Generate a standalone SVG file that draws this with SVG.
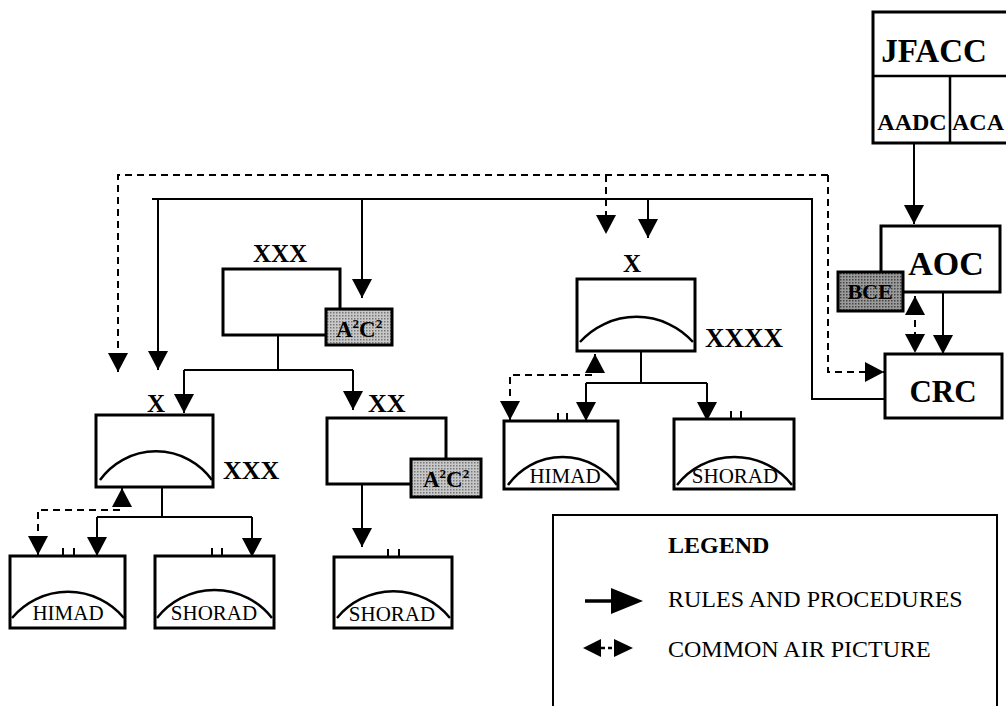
<svg xmlns="http://www.w3.org/2000/svg" width="1006" height="706" viewBox="0 0 1006 706">
<style>
.box{fill:#fff;stroke:#000;stroke-width:3}
.arc{fill:none;stroke:#000;stroke-width:2.5}
.tick{stroke:#000;stroke-width:2}
.ln{fill:none;stroke:#000;stroke-width:2}
.dl{fill:none;stroke:#000;stroke-width:2;stroke-dasharray:7,5}
.b{font-family:"Liberation Serif",serif;font-weight:bold;fill:#000}
.r{font-family:"Liberation Serif",serif;fill:#000}
.m{text-anchor:middle}
.a2{fill:url(#dotsL);stroke:#000;stroke-width:3}
.bce{fill:url(#dotsD);stroke:#000;stroke-width:3}
</style>
<defs>
<marker id="ah" markerUnits="userSpaceOnUse" markerWidth="20" markerHeight="20" refX="19" refY="10" orient="auto-start-reverse" viewBox="0 0 19 20">
<path d="M0,0 L19,10 L0,20 z" fill="#000"/>
</marker>
<pattern id="dotsL" width="3" height="3" patternUnits="userSpaceOnUse">
<rect width="3" height="3" fill="#c8c8c8"/>
<rect width="1.5" height="1.5" fill="#777"/>
</pattern>
<pattern id="dotsD" width="3" height="3" patternUnits="userSpaceOnUse">
<rect width="3" height="3" fill="#9a9a9a"/>
<rect width="1.5" height="1.5" fill="#444"/>
</pattern>
</defs>
<rect width="1006" height="706" fill="#fff"/>

<g id="connectors">
<line class="ln" x1="914" y1="143" x2="914" y2="224" marker-end="url(#ah)"/>
<line class="ln" x1="943" y1="292" x2="943" y2="354" marker-end="url(#ah)"/>
<line class="dl" x1="915" y1="296" x2="915" y2="353" marker-start="url(#ah)" marker-end="url(#ah)"/>
<path class="ln" d="M885 399 H812 V199 H152"/>
<line class="ln" x1="158" y1="199" x2="158" y2="370" marker-end="url(#ah)"/>
<line class="ln" x1="362" y1="199" x2="362" y2="298" marker-end="url(#ah)"/>
<line class="ln" x1="648" y1="199" x2="648" y2="238" marker-end="url(#ah)"/>
<path class="dl" d="M828 175 H118 V372" marker-end="url(#ah)"/>
<path class="dl" d="M828 175 V372 H884" marker-end="url(#ah)"/>
<line class="dl" x1="606" y1="175" x2="606" y2="234" marker-end="url(#ah)"/>
<path class="ln" d="M278 335 V370"/>
<path class="ln" d="M184 370 H353"/>
<line class="ln" x1="184" y1="370" x2="184" y2="413" marker-end="url(#ah)"/>
<line class="ln" x1="353" y1="370" x2="353" y2="410" marker-end="url(#ah)"/>
<line class="ln" x1="362" y1="484" x2="362" y2="547" marker-end="url(#ah)"/>
<path class="ln" d="M162 487 V517 M97 517 H252"/>
<line class="ln" x1="97" y1="517" x2="97" y2="556" marker-end="url(#ah)"/>
<line class="ln" x1="252" y1="517" x2="252" y2="557" marker-end="url(#ah)"/>
<path class="dl" d="M122 488 V510 H38 V555" marker-start="url(#ah)" marker-end="url(#ah)"/>
<path class="ln" d="M641 351 V383 M586 383 H707"/>
<line class="ln" x1="586" y1="383" x2="586" y2="421" marker-end="url(#ah)"/>
<line class="ln" x1="707" y1="383" x2="707" y2="421" marker-end="url(#ah)"/>
<path class="dl" d="M595 354 V375 H510 V420" marker-start="url(#ah)" marker-end="url(#ah)"/>
</g>

<g id="jfacc">
<rect class="box" x="873" y="12" width="140" height="131"/>
<line class="ln" x1="873" y1="76" x2="1010" y2="76" style="stroke-width:2.5"/>
<line class="ln" x1="950" y1="76" x2="950" y2="143" style="stroke-width:2.5"/>
<text class="b m" x="934" y="62" font-size="33">JFACC</text>
<text class="b m" x="912" y="130" font-size="24">AADC</text>
<text class="b m" x="978" y="130" font-size="24">ACA</text>
</g>

<g id="aoc">
<rect class="box" x="881" y="226" width="119" height="66"/>
<text class="b m" x="946" y="275" font-size="34">AOC</text>
</g>
<g id="bce">
<rect class="bce" x="838" y="272" width="65" height="39"/>
<text class="b m" x="870" y="299" font-size="22">BCE</text>
</g>
<g id="crc">
<rect class="box" x="885" y="354" width="117" height="64"/>
<text class="b m" x="943" y="402" font-size="31">CRC</text>
</g>

<g id="xxx-top">
<text class="b m" x="280" y="262" font-size="25">XXX</text>
<rect class="box" x="223" y="269" width="117" height="66"/>
<rect class="a2" x="326" y="309" width="66" height="36"/>
<text class="b m" x="359" y="337" font-size="23">A<tspan font-size="13" dy="-9">2</tspan><tspan dy="9">C</tspan><tspan font-size="13" dy="-9">2</tspan></text>
</g>

<g id="x-right">
<text class="b m" x="632" y="272" font-size="25">X</text>
<rect class="box" x="577" y="279" width="118" height="72"/>
<path class="arc" d="M580 342 A76 76 0 0 1 693 342"/>
<text class="b" x="705" y="347" font-size="27">XXXX</text>
</g>

<g id="x-left">
<text class="b m" x="156" y="412" font-size="25">X</text>
<rect class="box" x="96" y="415" width="117" height="72"/>
<path class="arc" d="M100 480 A69 69 0 0 1 212 480"/>
<text class="b" x="223" y="479" font-size="26">XXX</text>
</g>

<g id="xx">
<text class="b" x="368" y="412" font-size="26">XX</text>
<rect class="box" x="327" y="418" width="119" height="66"/>
<rect class="a2" x="411" y="459" width="70" height="38"/>
<text class="b m" x="446" y="487" font-size="23">A<tspan font-size="13" dy="-9">2</tspan><tspan dy="9">C</tspan><tspan font-size="13" dy="-9">2</tspan></text>
</g>

<g id="himad1">
<rect class="box" x="10" y="556" width="115" height="72"/>
<path class="arc" d="M12 618 A73 73 0 0 1 124 618"/>
<line class="tick" x1="63" y1="548" x2="63" y2="556"/>
<line class="tick" x1="74" y1="548" x2="74" y2="556"/>
<text class="r m" x="68" y="620" font-size="21">HIMAD</text>
</g>
<g id="shorad1">
<rect class="box" x="155" y="556" width="119" height="72"/>
<path class="arc" d="M157 618 A73 73 0 0 1 272 618"/>
<line class="tick" x1="212" y1="548" x2="212" y2="556"/>
<line class="tick" x1="222" y1="548" x2="222" y2="556"/>
<text class="r m" x="214" y="620" font-size="21">SHORAD</text>
</g>
<g id="shorad3">
<rect class="box" x="334" y="557" width="118" height="71"/>
<path class="arc" d="M337 618 A73 73 0 0 1 450 618"/>
<line class="tick" x1="388" y1="549" x2="388" y2="557"/>
<line class="tick" x1="399" y1="549" x2="399" y2="557"/>
<text class="r m" x="392" y="621" font-size="21">SHORAD</text>
</g>
<g id="himad2">
<rect class="box" x="504" y="421" width="114" height="68"/>
<path class="arc" d="M508 485 A67 67 0 0 1 617 485"/>
<line class="tick" x1="558" y1="413" x2="558" y2="421"/>
<line class="tick" x1="567" y1="413" x2="567" y2="421"/>
<text class="r m" x="565" y="483" font-size="21">HIMAD</text>
</g>
<g id="shorad2">
<rect class="box" x="674" y="419" width="120" height="70"/>
<path class="arc" d="M677 485 A73 73 0 0 1 792 485"/>
<line class="tick" x1="731" y1="411" x2="731" y2="419"/>
<line class="tick" x1="741" y1="411" x2="741" y2="419"/>
<text class="r m" x="735" y="483" font-size="21">SHORAD</text>
</g>

<g id="legend">
<rect x="553" y="515" width="444" height="210" fill="none" stroke="#000" stroke-width="2"/>
<text class="b" x="668" y="553" font-size="24">LEGEND</text>
<line x1="585" y1="601" x2="614" y2="601" stroke="#000" stroke-width="3.5"/>
<path d="M611 588 L643 601 L611 614 z" fill="#000"/>
<text class="r" x="668" y="607" font-size="24">RULES AND PROCEDURES</text>
<path d="M583 648 L601 639 L601 657 z" fill="#000"/>
<line x1="601" y1="648" x2="614" y2="648" stroke="#000" stroke-width="2.5" stroke-dasharray="4,3"/>
<path d="M633 648 L614 639 L614 657 z" fill="#000"/>
<text class="r" x="668" y="657" font-size="24">COMMON AIR PICTURE</text>
</g>
</svg>
